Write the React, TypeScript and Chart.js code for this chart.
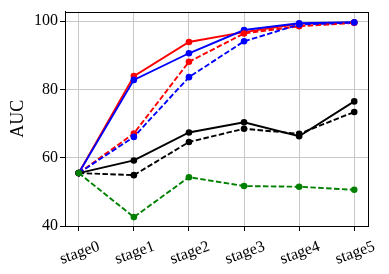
import React, { useEffect, useRef } from "react";
import { Chart, registerables } from "chart.js";
Chart.register(...registerables);

const stages = ["stage0", "stage1", "stage2", "stage3", "stage4", "stage5"];
const yTicks = [40, 60, 80, 100];
const redSolid = [55.5, 83.9, 93.9, 96.8, 99.2, 99.6];
const blueSolid = [55.5, 82.8, 90.6, 97.4, 99.4, 99.7];
const redDashed = [55.5, 67.1, 88.1, 96.4, 98.5, 99.5];
const blueDashed = [55.5, 66.1, 83.6, 94.1, 99.0, 99.6];
const blackSolid = [55.5, 59.2, 67.4, 70.4, 66.3, 76.5];
const blackDashed = [55.5, 54.9, 64.6, 68.5, 67.0, 73.4];
const greenDashed = [55.5, 42.6, 54.3, 51.7, 51.5, 50.6];

const FONT = "'Liberation Serif', 'Times New Roman', serif";

export default function App() {
  const ref = useRef<HTMLCanvasElement>(null);
  useEffect(() => {
    document.body.style.margin = "0";
    const series = [
      { data: redSolid, color: "#ff0000", dash: [] as number[] },
      { data: blueSolid, color: "#0000ff", dash: [] as number[] },
      { data: redDashed, color: "#ff0000", dash: [5.5, 2.4] },
      { data: blueDashed, color: "#0000ff", dash: [5.5, 2.4] },
      { data: blackSolid, color: "#000000", dash: [] as number[] },
      { data: blackDashed, color: "#000000", dash: [5.5, 2.4] },
      { data: greenDashed, color: "#008000", dash: [5.5, 2.4] },
    ];
    const n = series.length;
    const framePlugin = {
      id: "frame",
      afterDraw(chart: any) {
        const { ctx, chartArea } = chart;
        ctx.save();
        ctx.strokeStyle = "#000";
        ctx.lineWidth = 1;
        ctx.strokeRect(
          Math.round(chartArea.left) + 0.5,
          Math.round(chartArea.top) + 0.5,
          Math.round(chartArea.right - chartArea.left),
          Math.round(chartArea.bottom - chartArea.top)
        );
        const xs = chart.scales.x;
        ctx.fillStyle = "#000";
        ctx.font = `16px ${FONT}`;
        ctx.textAlign = "center";
        ctx.textBaseline = "middle";
        stages.forEach((s, i) => {
          const px = xs.getPixelForValue(i);
          ctx.save();
          ctx.translate(px + 1, chartArea.bottom + 27);
          ctx.rotate((-20 * Math.PI) / 180);
          ctx.fillText(s, 0, 0);
          ctx.restore();
        });
        ctx.restore();
      },
    };
    const chart = new Chart(ref.current!, {
      type: "line",
      data: {
        datasets: series.map((s, i) => ({
          data: s.data.map((v, j) => ({ x: j, y: v })),
          borderColor: s.color,
          backgroundColor: s.color,
          borderDash: s.dash,
          borderWidth: 1.9,
          pointRadius: 3.3,
          pointBorderWidth: 0,
          pointHoverRadius: 3.3,
          fill: false,
          tension: 0,
          order: n - i,
        })),
      },
      options: {
        animation: false,
        responsive: false,
        layout: { padding: { top: 11, right: 21, left: 0, bottom: 0 } },
        plugins: { legend: { display: false }, tooltip: { enabled: false } },
        scales: {
          x: {
            type: "linear",
            min: -0.25,
            max: 5.25,
            afterBuildTicks: (scale: any) => {
              scale.ticks = stages.map((_, i) => ({ value: i }));
            },
            afterFit: (scale: any) => {
              scale.height = 48;
            },
            ticks: { display: false },
            grid: {
              color: "#c8c8c8",
              lineWidth: 1,
              drawTicks: true,
              tickLength: 5,
              tickColor: "#000",
            },
            border: { color: "#000", width: 1 },
          },
          y: {
            type: "linear",
            min: 40,
            max: 102.8,
            afterBuildTicks: (scale: any) => {
              scale.ticks = yTicks.map((v) => ({ value: v }));
            },
            afterFit: (scale: any) => {
              scale.width = 65;
            },
            ticks: {
              color: "#000",
              font: { family: FONT, size: 16 },
              padding: 2,
            },
            grid: {
              color: "#c8c8c8",
              lineWidth: 1,
              drawTicks: true,
              tickLength: 5,
              tickColor: "#000",
            },
            border: { color: "#000", width: 1 },
            title: {
              display: true,
              text: "AUC",
              color: "#000",
              font: { family: FONT, size: 18 },
              padding: { top: 7, bottom: 4 },
            },
          },
        },
      },
      plugins: [framePlugin],
    });
    return () => chart.destroy();
  }, []);
  return (
    <div style={{ width: 389, height: 274 }}>
      <canvas ref={ref} width={389} height={274} style={{ width: 389, height: 274 }} />
    </div>
  );
}
